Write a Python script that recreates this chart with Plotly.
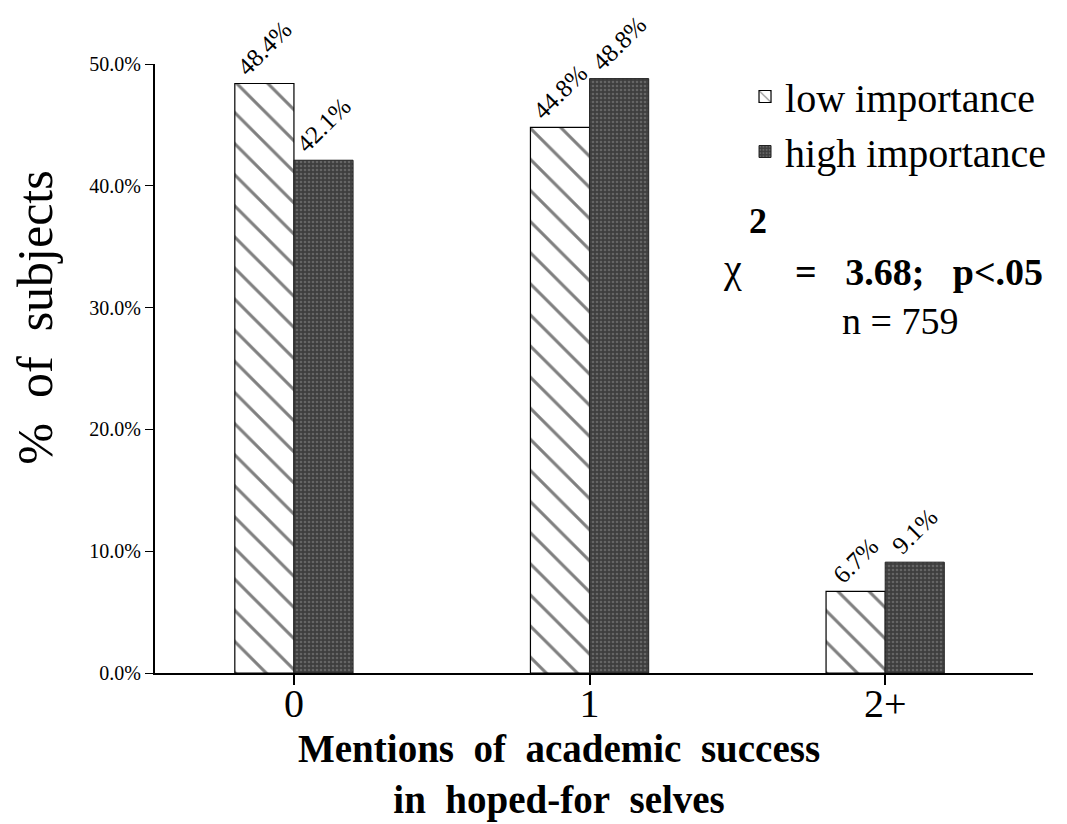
import plotly.graph_objects as go

categories = ["0", "1", "2+"]
low_values = [48.4, 44.8, 6.7]
high_values = [42.1, 48.8, 9.1]
y_ticks = [0, 10, 20, 30, 40, 50]
y_tick_labels = ["0.0%", "10.0%", "20.0%", "30.0%", "40.0%", "50.0%"]

SERIF = "Liberation Serif, Times New Roman, serif"
NB = "\u00a0"
SP = NB * 2

fig = go.Figure()
fig.add_trace(go.Bar(
    x=categories, y=low_values, name="low importance",
    marker=dict(color="white", line=dict(color="black", width=1.2),
                pattern=dict(shape="\\", fgcolor="black", bgcolor="white",
                             size=22, solidity=0.14)),
    text=[f"{v:.1f}%" for v in low_values], textposition="outside",
    textangle=-45, constraintext="none",
    textfont=dict(family=SERIF, size=25, color="black"),
    cliponaxis=False,
))
fig.add_trace(go.Bar(
    x=categories, y=high_values, name="high importance",
    marker=dict(color="#4a4a4a", line=dict(color="#222", width=1),
                pattern=dict(shape=".", fgcolor="#8c8c8c", bgcolor="#3e3e3e",
                             size=4, solidity=0.35)),
    text=[f"{v:.1f}%" for v in high_values], textposition="outside",
    textangle=-45, constraintext="none",
    textfont=dict(family=SERIF, size=25, color="black"),
    cliponaxis=False,
))

def ann(text, x, y, size, **kw):
    d = dict(text=text, x=x, y=y, xref="paper", yref="paper", showarrow=False,
             xanchor="center", yanchor="middle",
             font=dict(family=SERIF, size=size, color="black"))
    d.update(kw)
    return d

fig.update_layout(
    width=1067, height=824,
    margin=dict(l=147, r=42, t=56, b=159),
    paper_bgcolor="white", plot_bgcolor="white",
    barmode="group", bargap=0.6, bargroupgap=0,
    font=dict(family=SERIF, color="black"),
    showlegend=True,
    legend=dict(x=0.672, y=1.0, xanchor="left", yanchor="top",
                font=dict(family=SERIF, size=40, color="black"),
                bgcolor="rgba(0,0,0,0)", tracegroupgap=0, itemwidth=30),
    xaxis=dict(
        range=[-0.47, 2.5], showline=True, linecolor="black", linewidth=2,
        ticks="outside", ticklen=10, tickcolor="black", tickwidth=1.5,
        tickfont=dict(family=SERIF, size=40, color="black"),
        showgrid=False, zeroline=False, automargin=False,
    ),
    yaxis=dict(
        range=[0, 50], showline=True, linecolor="black", linewidth=2,
        ticks="outside", ticklen=8, tickcolor="black", tickwidth=1.2,
        tickvals=y_ticks, ticktext=y_tick_labels,
        tickfont=dict(family=SERIF, size=20, color="black"),
        showgrid=False, zeroline=False, automargin=False,
    ),
    annotations=[
        ann(f"%{SP}of{SP}subjects", -0.137, 0.583, 50, textangle=-90),
        ann(f"<b>Mentions{SP}of{SP}academic{SP}success<br>in{SP}hoped-for{SP}selves</b>",
            0.46, -0.167, 39),
        ann("<b>2</b>", 0.687, 0.742, 36),
        ann("χ", 0.658, 0.664, 40),
        ann(f"<b>={SP}{NB}3.68;{SP}{NB}p<.05</b>", 0.727, 0.658, 38, xanchor="left"),
        ann("n = 759", 0.849, 0.578, 38),
    ],
)

try:
    fig.update_xaxes(ticklabelstandoff=-16)
except Exception:
    fig.update_xaxes(ticklen=4)

fig.write_html("out.html")
